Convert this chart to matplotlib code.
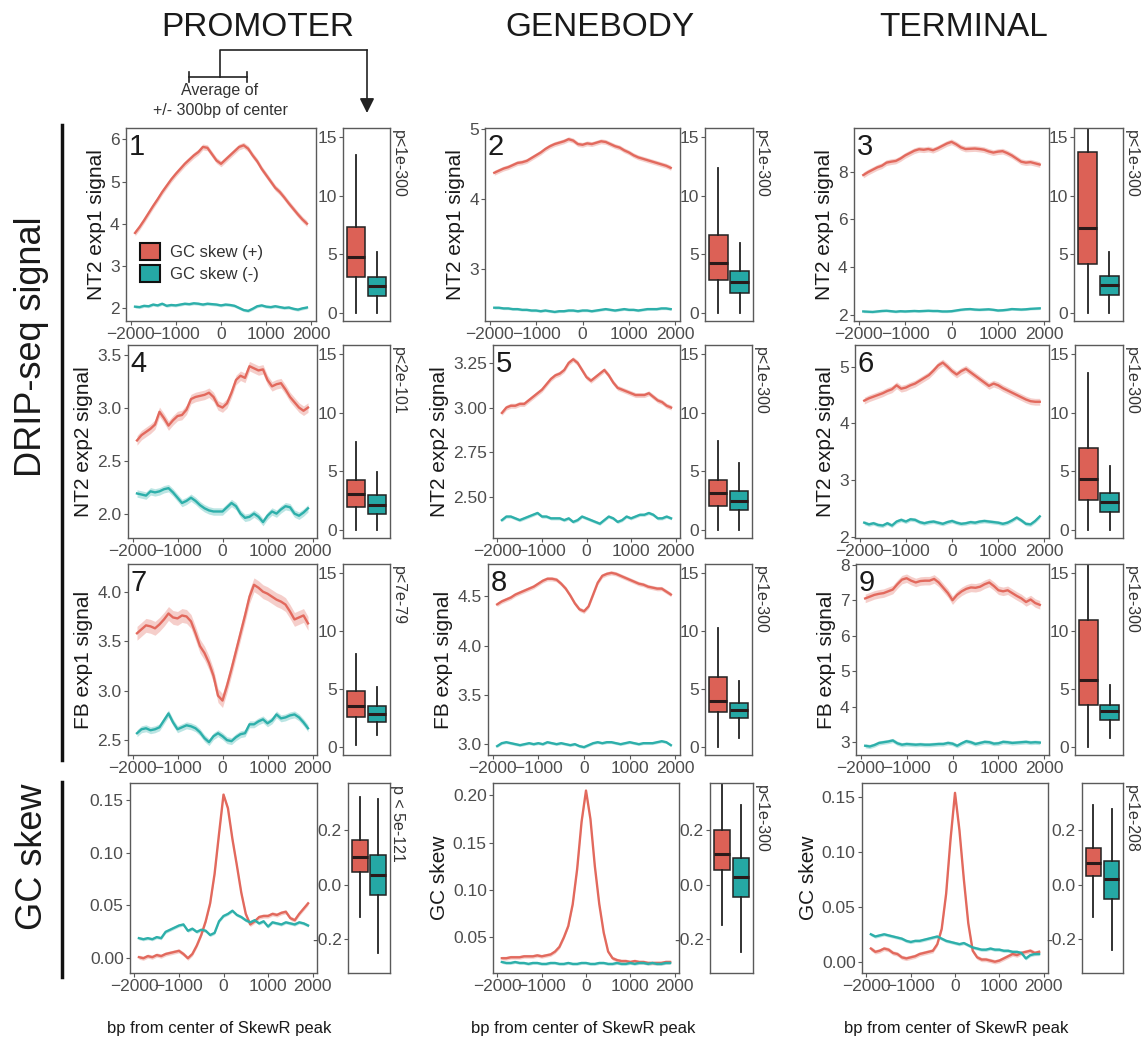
import numpy as np
import matplotlib
matplotlib.use("Agg")
import matplotlib.pyplot as plt
from matplotlib.patches import Patch, FancyArrowPatch
from matplotlib.lines import Line2D

plt.rcParams["font.family"] = ["Liberation Sans", "DejaVu Sans"]

W, H = 1144, 1038

# distance from the SkewR peak centre (bp)
bp = list(range(-1900, 1901, 100))

# mean profiles, GC skew (+) peaks and GC skew (-) peaks
prom_nt2e1_pos = [3.78, 3.92, 4.08, 4.25, 4.42, 4.58, 4.75, 4.90, 5.05, 5.18, 5.30, 5.42, 5.52, 5.62, 5.70, 5.82, 5.80, 5.65, 5.50, 5.42,
                  5.52, 5.62, 5.72, 5.82, 5.86, 5.78, 5.62, 5.48, 5.30, 5.15, 5.00, 4.85, 4.75, 4.62, 4.48, 4.35, 4.22, 4.10, 4.00]
prom_nt2e1_neg = [2.03, 2.02, 2.05, 2.04, 2.08, 2.06, 2.10, 2.05, 2.07, 2.06, 2.08, 2.10, 2.09, 2.11, 2.10, 2.08, 2.10, 2.09, 2.08, 2.06,
                  2.08, 2.07, 2.05, 2.00, 1.95, 1.93, 1.98, 2.04, 2.06, 2.03, 2.02, 2.04, 2.02, 2.00, 2.01, 1.98, 1.96, 1.99, 2.01]
body_nt2e1_pos = [4.38, 4.41, 4.44, 4.46, 4.49, 4.52, 4.53, 4.55, 4.59, 4.63, 4.67, 4.72, 4.76, 4.79, 4.81, 4.83, 4.86, 4.84, 4.79, 4.78,
                  4.80, 4.79, 4.81, 4.83, 4.82, 4.79, 4.76, 4.74, 4.70, 4.67, 4.63, 4.60, 4.58, 4.56, 4.54, 4.52, 4.50, 4.48, 4.45]
body_nt2e1_neg = [2.45, 2.45, 2.44, 2.44, 2.43, 2.43, 2.42, 2.42, 2.41, 2.41, 2.40, 2.41, 2.40, 2.39, 2.40, 2.40, 2.41, 2.41, 2.40, 2.41,
                  2.41, 2.40, 2.41, 2.42, 2.43, 2.42, 2.41, 2.42, 2.43, 2.42, 2.42, 2.41, 2.42, 2.43, 2.43, 2.43, 2.44, 2.44, 2.43]
term_nt2e1_pos = [7.86, 7.98, 8.08, 8.18, 8.25, 8.38, 8.42, 8.45, 8.55, 8.68, 8.78, 8.88, 8.94, 8.92, 8.95, 8.90, 8.98, 9.08, 9.18, 9.25,
                  9.15, 9.02, 8.95, 8.96, 8.97, 8.95, 8.92, 8.85, 8.80, 8.84, 8.86, 8.78, 8.68, 8.55, 8.42, 8.38, 8.40, 8.35, 8.30]
term_nt2e1_neg = [2.15, 2.14, 2.13, 2.15, 2.17, 2.18, 2.16, 2.14, 2.16, 2.15, 2.16, 2.17, 2.16, 2.17, 2.18, 2.17, 2.17, 2.15, 2.15, 2.16,
                  2.19, 2.22, 2.24, 2.25, 2.23, 2.22, 2.23, 2.24, 2.22, 2.19, 2.20, 2.22, 2.25, 2.24, 2.23, 2.24, 2.26, 2.27, 2.28]

prom_nt2e2_pos = [2.69, 2.74, 2.77, 2.80, 2.84, 2.96, 2.90, 2.83, 2.88, 2.92, 2.93, 2.98, 3.08, 3.10, 3.11, 3.12, 3.14, 3.10, 3.02, 3.00,
                  3.04, 3.14, 3.26, 3.30, 3.28, 3.39, 3.37, 3.35, 3.36, 3.26, 3.20, 3.22, 3.23, 3.17, 3.10, 3.05, 3.00, 2.97, 3.00]
prom_nt2e2_neg = [2.19, 2.18, 2.17, 2.21, 2.20, 2.21, 2.23, 2.24, 2.20, 2.15, 2.10, 2.12, 2.15, 2.12, 2.08, 2.05, 2.03, 2.02, 2.02, 2.02,
                  2.06, 2.10, 2.07, 2.00, 1.96, 1.97, 2.00, 1.97, 1.92, 1.98, 2.02, 2.00, 2.04, 2.07, 2.06, 2.00, 1.98, 2.01, 2.05]
body_nt2e2_pos = [2.97, 3.00, 3.01, 3.01, 3.02, 3.02, 3.04, 3.06, 3.08, 3.10, 3.13, 3.16, 3.18, 3.19, 3.21, 3.25, 3.27, 3.25, 3.21, 3.17,
                  3.15, 3.17, 3.19, 3.21, 3.18, 3.14, 3.11, 3.10, 3.09, 3.08, 3.07, 3.07, 3.07, 3.08, 3.06, 3.04, 3.03, 3.01, 3.00]
body_nt2e2_neg = [2.37, 2.39, 2.39, 2.38, 2.37, 2.38, 2.39, 2.40, 2.41, 2.39, 2.39, 2.38, 2.38, 2.38, 2.37, 2.38, 2.36, 2.37, 2.39, 2.38,
                  2.37, 2.36, 2.35, 2.37, 2.39, 2.38, 2.36, 2.37, 2.39, 2.38, 2.39, 2.40, 2.40, 2.41, 2.40, 2.38, 2.38, 2.39, 2.38]
term_nt2e2_pos = [4.40, 4.44, 4.47, 4.50, 4.53, 4.57, 4.60, 4.67, 4.61, 4.63, 4.67, 4.70, 4.75, 4.80, 4.85, 4.93, 5.02, 5.07, 5.00, 4.92,
                  4.86, 4.92, 4.96, 4.90, 4.84, 4.78, 4.72, 4.66, 4.70, 4.67, 4.62, 4.58, 4.54, 4.50, 4.46, 4.42, 4.39, 4.38, 4.38]
term_nt2e2_neg = [2.25, 2.22, 2.24, 2.21, 2.20, 2.24, 2.20, 2.27, 2.30, 2.27, 2.31, 2.30, 2.26, 2.24, 2.26, 2.27, 2.25, 2.23, 2.26, 2.28,
                  2.25, 2.23, 2.24, 2.26, 2.25, 2.27, 2.28, 2.27, 2.26, 2.25, 2.23, 2.25, 2.29, 2.34, 2.29, 2.23, 2.22, 2.28, 2.36]

prom_fbe1_pos = [3.58, 3.62, 3.66, 3.65, 3.63, 3.67, 3.72, 3.78, 3.74, 3.73, 3.76, 3.75, 3.70, 3.58, 3.45, 3.38, 3.28, 3.15, 2.95, 2.90,
                 3.05, 3.22, 3.40, 3.58, 3.76, 3.95, 4.07, 4.04, 4.00, 3.98, 3.95, 3.92, 3.90, 3.87, 3.80, 3.72, 3.74, 3.76, 3.68]
prom_fbe1_neg = [2.57, 2.61, 2.62, 2.60, 2.61, 2.63, 2.70, 2.77, 2.68, 2.61, 2.63, 2.65, 2.64, 2.62, 2.58, 2.52, 2.48, 2.54, 2.57, 2.54,
                 2.50, 2.49, 2.53, 2.56, 2.57, 2.66, 2.66, 2.69, 2.71, 2.67, 2.70, 2.76, 2.72, 2.73, 2.75, 2.76, 2.73, 2.68, 2.62]
body_fbe1_pos = [4.42, 4.45, 4.47, 4.49, 4.52, 4.54, 4.56, 4.58, 4.60, 4.63, 4.66, 4.68, 4.68, 4.67, 4.63, 4.58, 4.51, 4.43, 4.37, 4.35,
                 4.40, 4.52, 4.64, 4.71, 4.73, 4.74, 4.73, 4.71, 4.69, 4.67, 4.65, 4.63, 4.62, 4.60, 4.59, 4.58, 4.58, 4.55, 4.52]
body_fbe1_neg = [2.98, 3.01, 3.02, 3.01, 3.00, 2.99, 3.00, 3.01, 3.00, 3.01, 3.00, 3.02, 3.01, 3.00, 3.01, 3.00, 2.99, 3.00, 2.98, 2.97,
                 2.99, 3.01, 3.02, 3.01, 3.02, 3.02, 3.01, 3.00, 3.01, 3.02, 3.01, 3.00, 3.01, 3.01, 3.01, 3.02, 3.03, 3.02, 2.99]
term_fbe1_pos = [7.05, 7.10, 7.15, 7.18, 7.20, 7.25, 7.30, 7.45, 7.58, 7.62, 7.55, 7.50, 7.54, 7.55, 7.55, 7.60, 7.50, 7.35, 7.20, 7.00,
                 7.15, 7.25, 7.32, 7.36, 7.35, 7.38, 7.45, 7.50, 7.40, 7.28, 7.25, 7.28, 7.20, 7.12, 7.05, 6.95, 7.02, 6.92, 6.87]
term_fbe1_neg = [2.90, 2.88, 2.92, 2.98, 3.00, 3.02, 3.05, 2.97, 2.93, 2.95, 2.94, 2.93, 2.94, 2.93, 2.93, 2.94, 2.95, 2.95, 2.98, 2.96,
                 2.90, 2.97, 3.03, 3.00, 2.95, 2.98, 3.01, 3.00, 2.96, 2.97, 3.01, 3.00, 2.98, 2.99, 3.00, 3.01, 2.99, 3.00, 2.99]

prom_skew_pos = [0.001, 0.000, 0.002, 0.001, 0.003, 0.002, 0.004, 0.005, 0.006, 0.007, 0.004, 0.000, 0.004, 0.012, 0.022, 0.035, 0.052, 0.080, 0.118, 0.155,
                 0.142, 0.113, 0.088, 0.062, 0.042, 0.032, 0.035, 0.039, 0.040, 0.040, 0.042, 0.041, 0.043, 0.044, 0.038, 0.036, 0.042, 0.047, 0.052]
prom_skew_neg = [0.019, 0.018, 0.019, 0.018, 0.020, 0.019, 0.025, 0.027, 0.029, 0.031, 0.032, 0.026, 0.028, 0.025, 0.027, 0.026, 0.022, 0.024, 0.035, 0.040,
                 0.042, 0.045, 0.041, 0.039, 0.036, 0.034, 0.036, 0.033, 0.035, 0.030, 0.034, 0.033, 0.032, 0.034, 0.033, 0.032, 0.034, 0.033, 0.031]
body_skew_pos = [0.028, 0.028, 0.029, 0.029, 0.029, 0.030, 0.030, 0.030, 0.031, 0.030, 0.031, 0.032, 0.035, 0.040, 0.050, 0.062, 0.085, 0.122, 0.172, 0.205,
                 0.175, 0.125, 0.085, 0.055, 0.035, 0.028, 0.026, 0.025, 0.025, 0.024, 0.025, 0.024, 0.024, 0.023, 0.023, 0.023, 0.023, 0.024, 0.024]
body_skew_neg = [0.024, 0.023, 0.023, 0.024, 0.023, 0.023, 0.022, 0.023, 0.023, 0.022, 0.022, 0.023, 0.023, 0.022, 0.022, 0.023, 0.022, 0.022, 0.023, 0.023,
                 0.022, 0.022, 0.023, 0.023, 0.022, 0.022, 0.023, 0.022, 0.022, 0.023, 0.022, 0.023, 0.023, 0.022, 0.023, 0.022, 0.022, 0.023, 0.023]
term_skew_pos = [0.012, 0.009, 0.010, 0.012, 0.011, 0.008, 0.007, 0.004, 0.003, 0.004, 0.005, 0.007, 0.008, 0.009, 0.010, 0.016, 0.030, 0.062, 0.112, 0.154,
                 0.120, 0.075, 0.035, 0.010, 0.004, 0.002, 0.002, 0.001, 0.000, 0.001, 0.003, 0.005, 0.007, 0.006, 0.008, 0.009, 0.010, 0.008, 0.009]
term_skew_neg = [0.025, 0.023, 0.024, 0.025, 0.024, 0.023, 0.022, 0.021, 0.019, 0.018, 0.019, 0.019, 0.020, 0.021, 0.022, 0.023, 0.021, 0.019, 0.018, 0.017,
                 0.016, 0.017, 0.015, 0.013, 0.012, 0.011, 0.011, 0.012, 0.011, 0.011, 0.010, 0.010, 0.009, 0.009, 0.008, 0.003, 0.006, 0.007, 0.007]

# ribbon half-widths (standard error) for (+) and (-)
ribbon_se = [[(0.07, 0.035), (0.035, 0.018), (0.12, 0.05)],
             [(0.045, 0.035), (0.014, 0.009), (0.06, 0.035)],
             [(0.07, 0.035), (0.022, 0.014), (0.12, 0.06)],
             [(0.002, 0.0015), (0.002, 0.0015), (0.002, 0.0015)]]

# signal averaged over +/- 300 bp: low whisker, q1, median, q3, high whisker
prom_nt2e1_box = [[0.0, 3.07, 4.77, 7.33, 13.5], [0.0, 1.45, 2.30, 3.07, 5.2]]
body_nt2e1_box = [[0.0, 2.84, 4.26, 6.67, 12.4], [0.0, 1.70, 2.60, 3.55, 5.97]]
term_nt2e1_box = [[0.0, 4.17, 7.22, 13.77, 17.0], [0.0, 1.51, 2.37, 3.14, 5.22]]
prom_nt2e2_box = [[0.0, 1.95, 3.10, 4.24, 7.54], [0.0, 1.38, 2.09, 2.95, 4.96]]
body_nt2e2_box = [[0.0, 2.00, 3.14, 4.28, 7.57], [0.0, 1.66, 2.43, 3.28, 5.71]]
term_nt2e2_box = [[0.0, 2.57, 4.34, 7.00, 13.43], [0.0, 1.49, 2.34, 3.14, 5.43]]
prom_fbe1_box = [[0.14, 2.57, 3.56, 4.85, 8.0], [1.0, 2.19, 2.85, 3.51, 5.14]]
body_fbe1_box = [[0.03, 3.02, 4.00, 6.00, 10.26], [0.74, 2.50, 3.15, 3.81, 5.71]]
term_fbe1_box = [[0.0, 3.65, 5.80, 10.94, 17.0], [0.78, 2.35, 3.07, 3.65, 5.37]]
prom_skew_box = [[-0.12, 0.046, 0.101, 0.163, 0.321], [-0.254, -0.039, 0.034, 0.108, 0.316]]
body_skew_box = [[-0.15, 0.053, 0.114, 0.200, 0.40], [-0.249, -0.046, 0.028, 0.096, 0.293]]
term_skew_box = [[-0.12, 0.031, 0.080, 0.136, 0.293], [-0.242, -0.052, 0.022, 0.087, 0.280]]

p_values = [["p<1e-300", "p<1e-300", "p<1e-300"],
            ["p<2e-101", "p<1e-300", "p<1e-300"],
            ["p<7e-79", "p<1e-300", "p<1e-300"],
            ["p < 5e-121", "p<1e-300", "p<1e-208"]]
row_titles = ["NT2 exp1 signal", "NT2 exp2 signal", "FB exp1 signal", "GC skew"]
region_titles = ["PROMOTER", "GENEBODY", "TERMINAL"]
legend_labels = ["GC skew (+)", "GC skew (-)"]

profiles = [[(prom_nt2e1_pos, prom_nt2e1_neg), (body_nt2e1_pos, body_nt2e1_neg), (term_nt2e1_pos, term_nt2e1_neg)],
            [(prom_nt2e2_pos, prom_nt2e2_neg), (body_nt2e2_pos, body_nt2e2_neg), (term_nt2e2_pos, term_nt2e2_neg)],
            [(prom_fbe1_pos, prom_fbe1_neg), (body_fbe1_pos, body_fbe1_neg), (term_fbe1_pos, term_fbe1_neg)],
            [(prom_skew_pos, prom_skew_neg), (body_skew_pos, body_skew_neg), (term_skew_pos, term_skew_neg)]]
boxes = [[prom_nt2e1_box, body_nt2e1_box, term_nt2e1_box],
         [prom_nt2e2_box, body_nt2e2_box, term_nt2e2_box],
         [prom_fbe1_box, body_fbe1_box, term_fbe1_box],
         [prom_skew_box, body_skew_box, term_skew_box]]

# axis ranges and ticks for the profile panels
ylims = [[(1.69, 6.27), (2.26, 5.02), (1.75, 9.83)],
         [(1.77, 3.59), (2.27, 3.35), (1.98, 5.38)],
         [(2.35, 4.28), (2.89, 4.83), (2.64, 8.02)],
         [(-0.014, 0.166), (0.0124, 0.213), (-0.0103, 0.163)]]
yticks = [[([2, 3, 4, 5, 6], "%d"), ([3, 4, 5], "%d"), ([2, 4, 6, 8], "%d")],
          [([2.0, 2.5, 3.0, 3.5], "%.1f"), ([2.50, 2.75, 3.00, 3.25], "%.2f"), ([2, 3, 4, 5], "%d")],
          [([2.5, 3.0, 3.5, 4.0], "%.1f"), ([3.0, 3.5, 4.0, 4.5], "%.1f"), ([3, 4, 5, 6, 7, 8], "%d")],
          [([0.0, 0.05, 0.10, 0.15], "%.2f"), ([0.05, 0.10, 0.15, 0.20], "%.2f"), ([0.0, 0.05, 0.10, 0.15], "%.2f")]]

# panel placement in pixels
row_y = [(128, 321), (345, 538), (564, 755), (783, 973)]
line_x = [[(126, 316), (485, 680), (854, 1049)],
          [(128, 317), (493, 680), (855, 1049)],
          [(128, 317), (488, 680), (856, 1049)],
          [(130, 317), (493, 679), (862, 1048)]]
box_x = [[(343, 390), (705, 753), (1074, 1123)],
         [(343, 390), (705, 752), (1075, 1123)],
         [(343, 390), (705, 752), (1075, 1123)],
         [(348, 390), (710, 753), (1082, 1123)]]

RED = "#E2695D"
TEAL = "#2DAFAA"
BOX_RED = "#DC6156"
BOX_TEAL = "#25A8A5"
FRAME = "#5a5a5a"
TICK_TXT = "#4d4d4d"


def rect(x0, x1, y0, y1):
    return [x0 / W, 1 - y1 / H, (x1 - x0) / W, (y1 - y0) / H]


def style(ax):
    for s in ax.spines.values():
        s.set_color(FRAME)
        s.set_linewidth(1.0)
    ax.tick_params(labelsize=12.5, labelcolor=TICK_TXT, color=FRAME,
                   length=3, width=0.8, pad=1.5)


fig = plt.figure(figsize=(W / 100, H / 100), dpi=100)

x = np.array(bp)
for r in range(4):
    y0, y1 = row_y[r]
    for c in range(3):
        ax = fig.add_axes(rect(*line_x[r][c], y0, y1))
        pos, neg = profiles[r][c]
        se_pos, se_neg = ribbon_se[r][c]
        for vals, se, col in ((pos, se_pos, RED), (neg, se_neg, TEAL)):
            v = np.array(vals)
            ax.fill_between(x, v - se, v + se, color=col, alpha=0.32, lw=0)
            ax.plot(x, v, color=col, lw=1.7)
        ax.set_xlim(-2100, 2100)
        ax.set_ylim(*ylims[r][c])
        ax.set_xticks([-2000, -1000, 0, 1000, 2000])
        ticks, fmt = yticks[r][c]
        ax.set_yticks(ticks, [fmt % t for t in ticks])
        style(ax)
        if not (r == 3 and c == 0):
            ax.set_ylabel(row_titles[r], fontsize=15, color="#1a1a1a", labelpad=3)
        if r < 3:
            ax.text(0.015, 0.975, str(r * 3 + c + 1), transform=ax.transAxes,
                    ha="left", va="top", fontsize=21, color="#1a1a1a")

        # boxplot of the central window
        bx = fig.add_axes(rect(*box_x[r][c], y0, y1))
        stats = []
        for lo, q1, med, q3, hi in boxes[r][c]:
            stats.append(dict(whislo=lo, q1=q1, med=med, q3=q3, whishi=hi))
        parts = bx.bxp(stats, positions=[0.28, 0.72], widths=0.38, patch_artist=True,
                       showfliers=False, showcaps=False,
                       boxprops=dict(edgecolor="#222222", linewidth=1.1),
                       whiskerprops=dict(color="#222222", linewidth=1.3),
                       medianprops=dict(color="#2a1a1a", linewidth=2.2))
        for patch, col in zip(parts["boxes"], (BOX_RED, BOX_TEAL)):
            patch.set_facecolor(col)
        bx.set_xlim(0, 1)
        bx.set_xticks([])
        if r < 3:
            bx.set_ylim(-0.7, 15.8)
            bx.set_yticks([0, 5, 10, 15], ["0", "5", "10", "15"])
        else:
            bx.set_ylim(-0.326, 0.374)
            bx.set_yticks([-0.2, 0.0, 0.2], ["-0.2", "0.0", "0.2"])
        style(bx)
        fig.text((box_x[r][c][1] + 8) / W, 1 - (y0 + 2) / H, p_values[r][c],
                 rotation=270, ha="center", va="top", fontsize=11.5, color="#333333")

# legend inside panel 1
fig.legend(handles=[Patch(facecolor=BOX_RED, edgecolor="#111111", linewidth=1.5, label=legend_labels[0]),
                    Patch(facecolor=BOX_TEAL, edgecolor="#111111", linewidth=1.5, label=legend_labels[1])],
           loc="upper left", bbox_to_anchor=(140 / W, 1 - 243 / H), bbox_transform=fig.transFigure,
           frameon=False, borderpad=0, borderaxespad=0, handlelength=1.2, handleheight=1.2,
           handletextpad=0.6, labelspacing=0.3, fontsize=12, labelcolor="#333333")

# column headers and x titles
for cx, title in zip((258, 600, 964), region_titles):
    fig.text(cx / W, 1 - 28 / H, title, ha="center", va="center", fontsize=24, color="#1a1a1a")
for cx in (219, 583, 956):
    fig.text(cx / W, 1 - 1028 / H, "bp from center of SkewR peak", ha="center", va="center",
             fontsize=12, color="#1a1a1a")

# row group labels with bars
fig.add_artist(Line2D([62 / W, 62 / W], [1 - 125 / H, 1 - 760 / H], color="#111111", lw=2.5))
fig.add_artist(Line2D([62 / W, 62 / W], [1 - 782 / H, 1 - 977 / H], color="#111111", lw=2.5))
fig.text(32 / W, 1 - 347 / H, "DRIP-seq signal", rotation=90, ha="center", va="center",
         fontsize=26, color="#1a1a1a")
fig.text(32 / W, 1 - 857 / H, "GC skew", rotation=90, ha="center", va="center",
         fontsize=26, color="#1a1a1a")

# bracket showing the averaging window, with arrow to the boxplot
ink = "#222222"


def seg(xs, ys):
    fig.add_artist(Line2D([v / W for v in xs], [1 - v / H for v in ys], color=ink, lw=1.2))


seg([189, 247], [77, 77])
seg([189, 189], [72, 82])
seg([247, 247], [72, 82])
seg([220, 220, 367], [77, 50, 50])
fig.add_artist(FancyArrowPatch((367 / W, 1 - 50 / H), (367 / W, 1 - 113 / H),
                               transform=fig.transFigure, arrowstyle="-|>", mutation_scale=22,
                               color=ink, lw=1.2, shrinkA=0, shrinkB=0))
fig.text(220 / W, 1 - 91 / H, "Average of", ha="center", va="center", fontsize=11.5, color="#333333")
fig.text(220 / W, 1 - 110 / H, "+/- 300bp of center", ha="center", va="center", fontsize=11.5,
         color="#333333")

fig.savefig("out.png", dpi=100)
